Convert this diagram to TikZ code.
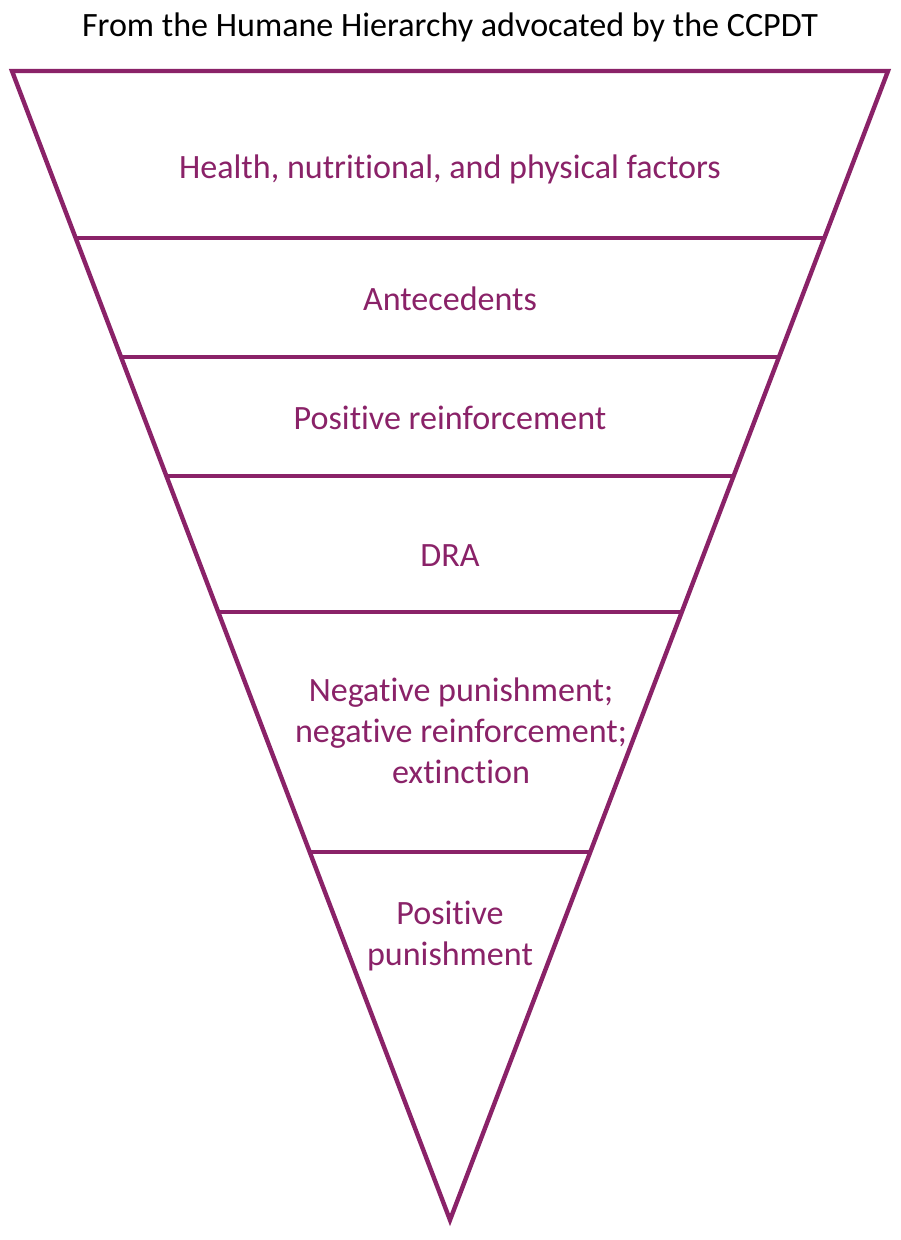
\documentclass[tikz,border=0pt]{standalone}
\usepackage{fontspec}
\setmainfont{Carlito}[Ligatures=NoCommon]
\usetikzlibrary{calc}
\definecolor{tierpurple}{HTML}{8A2268}

\begin{document}
\begin{tikzpicture}[x=0.02cm, y=-0.02cm,
  tierline/.style={draw=tierpurple, line width=2.5pt},
  tierlabel/.style={font=\fontsize{19.4pt}{23.3pt}\selectfont, text=tierpurple, anchor=base, align=center, inner sep=0pt}]
\fill[white] (0,0) rectangle (900,1240);
\useasboundingbox (0,0) rectangle (900,1240);
% outline of the inverted pyramid
\coordinate (tl) at (12,71);
\coordinate (tr) at (888,71);
\coordinate (apex) at (450,1220);
\draw[tierline, line join=miter] (tl) -- (tr) -- (apex) -- cycle;
% dividing lines between tiers
\foreach \t in {0.1453,0.2489,0.3525,0.4708,0.6797}
  \draw[tierline] ($(tl)!\t!(apex)$) -- ($(tr)!\t!(apex)$);
\node[font=\fontsize{19.4pt}{23.3pt}\selectfont, anchor=base, inner sep=0pt] (title) at (450,37) {From the Humane Hierarchy advocated by the CCPDT};
\node[tierlabel] (health) at (450,179) {Health, nutritional, and physical factors};
\node[tierlabel] (antecedents) at (450,310) {Antecedents};
\node[tierlabel] (posreinf) at (450,429) {Positive reinforcement};
\node[tierlabel] (dra) at (450,566) {DRA};
\node[tierlabel] (negative) at (461,783) {Negative punishment;\\negative reinforcement;\\extinction};
\node[tierlabel] (pospun) at (450,965) {Positive\\punishment};
\end{tikzpicture}
\end{document}
